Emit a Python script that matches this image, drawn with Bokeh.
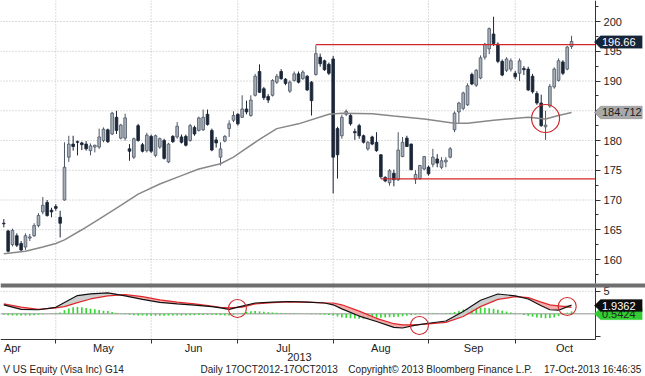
import numpy as np
from bokeh.plotting import figure
from bokeh.models import (FixedTicker, Label, PolyAnnotation, BoxAnnotation,
                          ColumnDataSource, Range1d, LinearAxis)
from bokeh.embed import file_html
from bokeh.resources import INLINE

# ---------------- data ----------------
# daily candles, 12-Apr-2013 .. 17-Oct-2013 (trading days, index 0..131)
opens = [166.1, 164.8, 162.5, 164.0, 162.7, 162.1, 163.6, 164.0, 165.7, 168.0, 169.6, 168.3, 168.9,
         167.1, 170.0, 177.2, 179.4, 179.8, 179.6, 179.4, 178.3, 178.9, 178.9, 180.0, 181.8, 181.1,
         183.9, 180.4, 180.4, 178.6, 177.2, 182.5, 179.3, 178.3, 180.7,
         177.5, 178.9, 180.0, 176.4, 180.7, 180.6, 180.6, 180.7, 180.0, 182.2, 181.7, 181.8, 184.4,
         181.7, 180.1, 177.2, 179.9, 182.0, 183.4, 184.4,
         183.9, 185.3, 184.2, 187.6, 191.6, 188.7, 187.4, 187.6, 189.8, 191.6, 190.3, 188.3, 190.1,
         191.2, 190.4, 190.8, 189.8, 191.1, 194.0, 193.4, 192.8, 193.7,
         182.0, 180.8, 184.4, 184.2, 181.5, 182.5, 180.8, 178.6, 180.6, 179.7, 177.6, 173.8, 172.9,
         174.5, 173.4, 177.3, 180.4, 179.4, 173.5, 173.6, 175.2, 175.5,
         176.0, 176.9, 175.5, 176.4, 177.2, 181.8, 184.8, 185.4, 186.0, 191.1, 189.3, 190.5, 194.0,
         195.4, 197.9, 196.2, 193.3, 191.8, 192.0, 191.3,
         191.3, 192.1, 192.0, 190.8, 187.9, 186.3, 182.3, 185.8, 189.0, 190.1, 193.2, 192.0, 195.8]
highs = [166.8, 165.0, 165.2, 164.4, 163.1, 164.4, 164.3, 166.1, 167.8, 170.5, 170.0, 168.7, 169.3,
         168.2, 179.7, 180.8, 180.8, 180.0, 179.8, 179.9, 179.5, 179.3, 182.0, 182.2, 182.0, 184.8,
         185.0, 182.8, 184.5, 179.4, 180.5, 182.8, 179.6, 181.3, 181.0,
         181.0, 180.5, 180.3, 179.6, 180.9, 183.1, 181.0, 181.0, 182.8, 182.5, 184.0, 185.2, 185.2,
         182.0, 180.6, 179.7, 180.9, 183.4, 184.9, 184.6,
         187.6, 186.7, 187.6, 191.2, 192.8, 189.0, 187.8, 190.3, 191.2, 192.0, 190.5, 190.1, 191.6,
         191.6, 191.8, 191.0, 190.0, 196.0, 194.6, 193.6, 193.1, 194.2,
         182.3, 184.3, 185.2, 184.5, 182.0, 182.8, 181.0, 179.9, 180.8, 181.4, 177.7, 174.0, 175.2,
         175.1, 181.4, 180.6, 180.8, 179.5, 175.0, 175.9, 177.4, 175.8,
         178.6, 177.7, 177.2, 177.2, 178.9, 184.9, 186.5, 188.2, 189.6, 191.4, 192.0, 194.3, 196.4,
         199.0, 200.8, 196.5, 193.6, 194.0, 193.8, 191.7,
         193.8, 192.5, 192.4, 191.2, 188.3, 187.7, 185.0, 189.5, 192.3, 193.8, 193.5, 195.9, 197.6]
lows = [165.4, 161.2, 162.2, 162.1, 161.4, 161.6, 163.1, 163.8, 165.4, 167.6, 167.2, 167.1, 168.2,
        163.7, 169.9, 176.4, 178.3, 177.5, 178.4, 178.3, 177.5, 178.0, 178.6, 179.7, 179.6, 180.9,
        181.1, 180.2, 180.0, 176.6, 176.9, 179.8, 178.0, 178.0, 177.9,
        177.2, 178.6, 176.8, 176.2, 179.6, 180.3, 179.5, 179.0, 179.8, 180.8, 181.5, 181.6, 182.5,
        178.2, 178.8, 175.8, 179.7, 180.6, 183.1, 182.5,
        183.8, 184.4, 184.0, 187.4, 188.0, 186.8, 186.3, 187.4, 189.5, 190.2, 189.3, 188.0, 189.9,
        189.6, 190.2, 188.3, 184.2, 190.9, 192.4, 191.7, 191.0, 171.1,
        173.6, 180.3, 184.1, 182.5, 180.1, 180.3, 179.5, 178.3, 179.2, 178.1, 173.6, 173.0, 172.4,
        172.3, 173.2, 177.2, 178.9, 175.0, 172.7, 173.4, 175.0, 174.1,
        175.5, 175.5, 175.2, 175.5, 177.0, 181.4, 183.0, 185.1, 185.8, 189.3, 189.0, 190.3, 193.6,
        194.5, 195.9, 193.0, 190.8, 191.5, 191.6, 190.3,
        190.0, 191.0, 188.3, 187.9, 186.0, 182.3, 180.1, 185.5, 188.7, 189.9, 191.0, 191.8, 195.4]
closes = [166.0, 161.4, 164.9, 162.4, 161.6, 164.0, 163.8, 165.7, 167.4, 169.1, 167.4, 168.0, 168.6,
          166.1, 175.5, 179.4, 179.0, 179.7, 179.3, 178.6, 179.1, 179.2, 180.6, 181.9, 179.8, 184.6,
          181.7, 182.6, 183.8, 178.2, 180.3, 180.0, 178.2, 180.9, 178.2,
          180.8, 180.3, 177.0, 179.4, 179.8, 182.4, 179.7, 179.2, 182.5, 181.1, 183.8, 183.9, 182.7,
          178.4, 179.6, 178.6, 180.7, 182.8, 184.2, 182.8,
          185.3, 184.8, 186.8, 190.8, 188.1, 187.2, 186.8, 190.1, 190.8, 190.4, 189.6, 189.8, 191.2,
          189.8, 191.5, 188.5, 186.7, 194.6, 192.9, 191.9, 191.3, 177.2,
          177.6, 183.9, 184.9, 182.8, 181.3, 180.8, 179.7, 179.7, 179.4, 178.3, 173.9, 173.2, 174.9,
          173.4, 178.4, 179.7, 179.0, 175.1, 174.3, 175.8, 177.3, 174.4,
          177.2, 176.2, 176.6, 176.7, 178.6, 184.6, 186.3, 188.0, 189.2, 189.5, 191.8, 193.9, 196.2,
          198.8, 196.3, 193.3, 191.0, 193.7, 193.4, 190.7,
          193.4, 191.9, 188.5, 188.2, 186.3, 182.5, 182.6, 189.1, 192.0, 193.4, 191.3, 195.7, 196.66]

# 50-day moving average (grey line), read at selected days
ma_idx = [0, 5, 9, 12, 14, 18, 22, 27, 31, 36, 41, 45, 50, 53, 55, 59, 63, 68, 75, 78, 85, 90,
          97, 104, 107, 113, 121, 125, 128, 131]
ma_val = [160.96, 161.4, 162.1, 162.7, 163.3, 165.0, 166.8, 169.1, 171.0, 172.7, 174.1, 175.2,
          176.1, 177.2, 178.2, 180.2, 182.0, 182.8, 184.4, 184.6, 184.5, 184.1, 183.6, 182.9,
          182.9, 183.4, 183.9, 183.6, 184.2, 184.712]

# MACD panel: MACD (black) and signal (red) read at selected days
m_idx = [0, 4, 8, 12, 14, 17, 20, 24, 28, 32, 36, 40, 44, 48, 50, 52, 55, 58, 62, 66, 70, 74,
         76, 78, 82, 86, 90, 92, 95, 98, 102, 106, 110, 114, 118, 121, 124, 126, 128, 131]
macd = [2.0, 1.0, 0.9, 1.45, 2.5, 4.05, 4.44, 4.65, 4.0, 3.2, 2.55, 2.2, 1.95, 1.6, 1.33, 1.0,
        1.7, 2.4, 2.6, 2.73, 2.6, 2.4, 2.0, 1.1, -0.5, -1.7, -3.0, -3.15, -2.5, -2.1, -1.6, 0.5,
        3.0, 4.4, 4.0, 3.3, 1.8, 0.9, 0.8, 1.9362]
signal = [2.22, 1.5, 1.0, 1.3, 1.6, 2.5, 3.3, 4.0, 4.25, 3.8, 3.1, 2.6, 2.2, 1.7, 1.45, 1.35,
          1.5, 2.2, 2.5, 2.65, 2.6, 2.45, 2.4, 2.0, 0.6, -1.0, -2.2, -2.44, -2.44, -2.25, -1.9,
          -0.6, 1.6, 3.2, 3.8, 3.6, 2.6, 2.0, 1.75, 1.4]
# histogram (green bars), one per day
hist = [-0.2, -0.3, -0.35, -0.4, -0.4, -0.4, -0.35, -0.3, -0.2, -0.1, 0.0, 0.05, 0.1,
        0.3, 0.8, 1.2, 1.45, 1.5, 1.45, 1.3, 1.15, 1.0, 0.85, 0.7, 0.6, 0.4, 0.2, 0.05, -0.1,
        -0.2, -0.3, -0.35, -0.4, -0.45, -0.45,
        -0.45, -0.45, -0.45, -0.4, -0.4, -0.4, -0.35, -0.35, -0.3, -0.3, -0.25, -0.25, -0.2,
        -0.2, -0.25, -0.3, -0.35, -0.35, -0.2, 0.0,
        0.2, 0.4, 0.55, 0.6, 0.55, 0.45, 0.35, 0.3, 0.25, 0.2, 0.15, 0.1, 0.1, 0.05, 0.0, -0.05,
        -0.1, -0.1, -0.15, -0.2, -0.25, -0.4,
        -0.6, -0.8, -0.9, -1.0, -1.05, -1.1, -1.1, -1.05, -1.0, -0.9, -0.85, -0.8, -0.75, -0.7,
        -0.65, -0.55, -0.45, -0.3, -0.2, -0.1, 0.0, 0.1,
        0.15, 0.1, 0.05, 0.1, 0.2, 0.4, 0.7, 0.95, 1.15, 1.3, 1.4, 1.4, 1.35, 1.25, 1.1, 0.9,
        0.7, 0.5, 0.3, 0.15,
        -0.05, -0.25, -0.45, -0.65, -0.8, -0.9, -1.0, -0.95, -0.8, -0.5, -0.15, 0.25, 0.54]

# month boundaries (day index where the dotted line sits) and labels
month_lines = [12, 34, 54, 76, 98, 118]
month_pos = [2.0, 23.0, 43.8, 64.5, 87.0, 108.4, 129.4]
month_names = ["Apr", "May", "Jun", "Jul", "Aug", "Sep", "Oct"]
price_ticks = [160, 165, 170, 175, 180, 185, 190, 195, 200]
macd_ticks = [-5, 0, 5]

# horizontal levels drawn on the chart
res_level, res_start = 196.1, 72
sup_level, sup_start = 173.55, 87
last_price = 196.66
ma_last = 184.712
macd_last = 1.9362
hist_last = 0.5424

assert len(opens) == len(highs) == len(lows) == len(closes) == len(hist) == 132
idx = list(range(len(closes)))

# ---------------- layout constants (pixels -> data) ----------------
FONT = "Liberation Sans"
RED = "#d0282a"
GRID = "#b8b8b8"
XL, XE = -0.761, 148.06          # full canvas width
AX = 136.53                      # where the right axes sit
P_LO, P_HI = 140.34, 203.53      # price range over the full canvas height
M_LO, M_HI = -13.93, 69.62       # MACD range over the full canvas height
P_PANEL_BOT = 155.97             # bottom of price panel (top of separator)
P_SEP_BOT = 155.29
M_TOP, M_BOT = 5.84, -5.71       # MACD panel edges


def m2p(m):
    """position of a MACD value expressed on the price range (same canvas)"""
    return P_LO + (m - M_LO) / (M_HI - M_LO) * (P_HI - P_LO)


p = figure(width=645, height=376, x_range=Range1d(XL, XE), y_range=Range1d(P_LO, P_HI),
           output_backend="svg", toolbar_location=None, x_axis_location=None,
           y_axis_location=None, min_border=0, min_border_left=0, min_border_right=0,
           min_border_top=0, min_border_bottom=0, outline_line_color=None,
           background_fill_color="white", border_fill_color="white")
p.extra_y_ranges = {"macd": Range1d(M_LO, M_HI)}
p.grid.visible = False


def style_axis(a, size="11px"):
    a.axis_line_color = "#333333"
    a.major_tick_line_color = "#333333"
    a.minor_tick_line_color = "#333333"
    a.major_label_text_font = FONT
    a.major_label_text_font_size = size
    a.major_label_text_color = "#222222"


# ---- gridlines (dotted) ----
n = len(price_ticks)
p.segment(x0=[XL] * n, x1=[AX] * n, y0=price_ticks, y1=price_ticks,
          line_color=GRID, line_dash="1 2", line_width=1)
k = len(month_lines)
p.segment(x0=month_lines, x1=month_lines, y0=[P_HI] * k, y1=[P_PANEL_BOT] * k,
          line_color=GRID, line_dash="1 2", line_width=1)
p.segment(x0=month_lines, x1=month_lines, y0=[M_TOP] * k, y1=[M_BOT] * k,
          line_color=GRID, line_dash="1 2", line_width=1, y_range_name="macd")
p.segment(x0=[XL], x1=[AX], y0=[5], y1=[5], line_color=GRID, line_dash="1 2",
          line_width=1, y_range_name="macd")

# separator band between panels
p.add_layout(BoxAnnotation(top=P_PANEL_BOT, bottom=P_SEP_BOT, fill_color="#6e6e6e",
                           fill_alpha=1.0, line_color=None))

# ---- candles ----
up = [c >= o for o, c in zip(opens, closes)]
src = ColumnDataSource(dict(
    i=idx, o=opens, h=highs, l=lows, c=closes,
    top=[max(o, c) for o, c in zip(opens, closes)],
    bot=[min(o, c) for o, c in zip(opens, closes)],
    fill=["#a7afb9" if u else "#1b2637" for u in up],
    edge=["#4b5563" if u else "#1b2637" for u in up],
))
p.segment(x0="i", y0="h", x1="i", y1="l", source=src, line_color="edge", line_width=1)
p.vbar(x="i", width=0.62, top="top", bottom="bot", source=src,
       fill_color="fill", line_color="edge", line_width=0.8)

p.line(ma_idx, ma_val, line_color="#888888", line_width=1.5)

p.segment(x0=[res_start, sup_start], x1=[AX, AX], y0=[res_level, sup_level],
          y1=[res_level, sup_level], line_color=RED, line_width=1.2)

p.scatter(x=[125.0], y=[183.7], size=28, marker="circle", fill_color=None,
          line_color=RED, line_width=1.2)

# ---- price axis (right) ----
ya = LinearAxis(fixed_location=AX, bounds=(P_PANEL_BOT, P_HI))
ya.ticker = FixedTicker(ticks=price_ticks, minor_ticks=[157.5 + 5 * j for j in range(10)])
style_axis(ya)
ya.major_tick_out = 5
ya.major_tick_in = 0
ya.minor_tick_out = 3
ya.minor_tick_in = 0
ya.major_label_standoff = 3
p.add_layout(ya, "right")

# ---- MACD panel ----
p.segment(x0=[XL], x1=[AX], y0=[0], y1=[0], line_color="#b5b5b5", line_width=1.5,
          y_range_name="macd")
p.vbar(x=idx, top=hist, bottom=0, width=0.38, fill_color="#36d836", line_color=None,
       y_range_name="macd")
mac = np.array(macd)
sig = np.array(signal)
hi = np.maximum(mac, sig)
p.varea(x=m_idx, y1=sig, y2=hi, fill_color="#c9c9c9", fill_alpha=0.9, y_range_name="macd")
p.varea(x=m_idx, y1=mac, y2=hi, fill_color="#f4a3a3", fill_alpha=0.9, y_range_name="macd")
p.line(m_idx, signal, line_color="#e0282a", line_width=1.2, y_range_name="macd")
p.line(m_idx, macd, line_color="#111111", line_width=1.2, y_range_name="macd")

for cx, cy in [(53.9, 1.18), (95.9, -2.6), (130.0, 1.62)]:
    p.scatter(x=[cx], y=[cy], size=18, marker="circle", fill_color=None,
              line_color=RED, line_width=1.1, y_range_name="macd")

ym = LinearAxis(y_range_name="macd", fixed_location=AX, bounds=(M_BOT, M_TOP))
ym.ticker = FixedTicker(ticks=macd_ticks)
ym.major_label_overrides = {-5: "", 0: "", 5: "5"}
style_axis(ym)
ym.major_tick_out = 5
ym.major_tick_in = 0
ym.major_label_standoff = 3
p.add_layout(ym, "right")

xa = LinearAxis(y_range_name="macd", fixed_location=M_BOT, bounds=(XL, AX))
xa.ticker = FixedTicker(ticks=month_pos, minor_ticks=month_lines)
xa.major_label_overrides = {pos: name for pos, name in zip(month_pos, month_names)}
style_axis(xa)
xa.major_tick_line_color = None
xa.major_tick_out = 0
xa.major_tick_in = 0
xa.minor_tick_out = 4
xa.minor_tick_in = 0
xa.axis_line_width = 1.2
xa.major_label_standoff = -2
p.add_layout(xa, "below")


# ---- value tags on the right (drawn on the price range of the same canvas) ----
def tag(y, half, text, fill, color, line=None):
    x_tip, x_l, x_r = 136.25, 137.7, 147.3
    p.add_layout(PolyAnnotation(xs=[x_tip, x_l, x_r, x_r, x_l],
                                ys=[y, y + half, y + half, y - half, y - half],
                                fill_color=fill, fill_alpha=1.0,
                                line_color=line if line else fill, line_width=1))
    p.add_layout(Label(x=138.0, y=y, text=text, text_color=color, text_font=FONT,
                       text_font_size="11px", text_baseline="middle", text_align="left"))


tag(last_price - 0.12, 1.05, f"{last_price:.2f}", "#17253a", "white")
tag(ma_last, 1.05, f"{ma_last:.3f}", "#a9a9a9", "#1a1a1a", "#555555")
mh = (P_HI - P_LO) / (M_HI - M_LO)
tag(m2p(0.0), 1.3 * mh, f"{hist_last:.4f}", "#33cc33", "#1c2a1c")
tag(m2p(1.84), 1.35 * mh, f"{macd_last:.4f}", "#0d0d0d", "white")

# ---- texts below ----
p.add_layout(Label(x=68.2, y=-9.7, text="2013", text_font=FONT, text_font_size="11px",
                   text_color="#222222", text_align="center", text_baseline="middle",
                   y_range_name="macd"))
foot = [(-0.1, "V US Equity (Visa Inc) G14", "left"),
        (45.4, "Daily 17OCT2012-17OCT2013", "left"),
        (79.5, "Copyright\u00a9 2013 Bloomberg Finance L.P.", "left"),
        (147.1, "17-Oct-2013 16:46:35", "right")]
for fx, ft, al in foot:
    p.add_layout(Label(x=fx, y=-12.38, text=ft, text_font=FONT, text_font_size="10px",
                       text_color="#222222", text_align=al, text_baseline="middle",
                       y_range_name="macd"))

open("out.html", "w").write(file_html(p, INLINE))
